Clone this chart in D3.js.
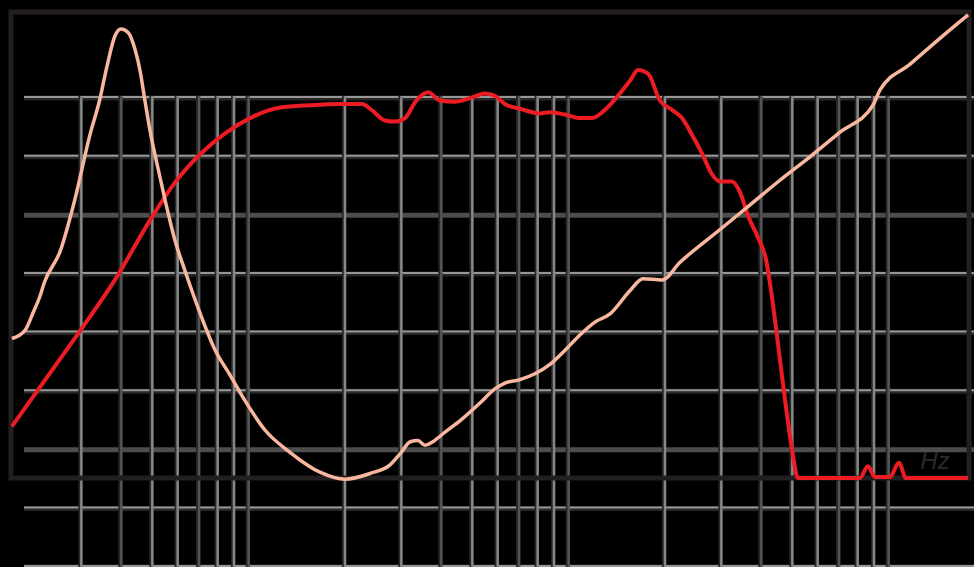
<!DOCTYPE html>
<html>
<head>
<meta charset="utf-8">
<script src="https://cdn.jsdelivr.net/npm/d3@7"></script>
<style>
  html, body { margin: 0; padding: 0; background: #000; }
  svg { display: block; }
</style>
</head>
<body>
<div id="chart"></div>
<script>
// grid positions
var gridFreqs = [15, 20, 25, 30, 35, 40, 45, 50,
                 100, 150, 200, 250, 300, 350, 400, 450, 500,
                 1000, 1500, 2000, 2500, 3000, 3500, 4000, 4500, 5000];
var gridLevels = [95, 90, 85, 80, 75, 70, 65, 60, 55];

// frequency response (Hz, dB)
var splFreq = [9.1, 12.0, 14.9, 19.1, 24.6, 29.4, 35.2, 42.2, 50.5, 62.7, 77.8, 96.4,
               113, 121, 133, 143, 154, 166, 182, 198, 221, 246, 274, 294, 316, 352,
               407, 437, 487, 542, 591, 649, 723, 778, 824, 885, 964, 1052, 1130, 1213,
               1305, 1403, 1486, 1620, 1714, 1816, 1953, 2070, 2145, 2256, 2371, 2495,
               2605, 4064, 4305, 4529, 5047, 5383, 5662, 8851];
var splDb = [66.9, 71.5, 75.1, 79.4, 84.5, 87.7, 90.1, 91.9, 93.2, 94.1, 94.3, 94.4,
             94.4, 93.9, 93.0, 92.9, 93.2, 94.6, 95.4, 94.7, 94.6, 94.9, 95.3, 95.1, 94.4, 94.0,
             93.6, 93.7, 93.5, 93.2, 93.2, 93.9, 95.3, 96.4, 97.3, 97.0, 94.7, 93.9, 93.2, 91.8,
             90.2, 88.4, 87.8, 87.8, 86.9, 84.9, 83.0, 81.1, 78.5, 73.9, 69.2, 64.9,
             62.5, 62.5, 63.5, 62.6, 62.6, 63.8, 62.5, 62.5];

// impedance (Hz, ohm)
var impFreq = [9.1, 10.0, 10.6, 11.1, 11.5, 12.9, 14.3, 16.0, 17.1, 18.0, 19.1, 19.95,
               21.0, 22.1, 22.9, 23.7, 24.6, 25.9, 27.4, 29.4, 31.6, 35.2, 39.3, 43.7,
               48.7, 56.2, 67.3, 83.5, 100, 120, 138, 149, 160, 169, 178, 188, 205, 229,
               264, 294, 316, 352, 392, 437, 487, 542, 604, 673, 778, 853, 980, 1114,
               1486, 1845, 2286, 2838, 3524, 4467, 4699, 5834, 7230, 8851];
var impOhm = [19.4, 20.1, 21.6, 22.9, 24.2, 26.9, 31.2, 36.9, 39.7, 42.5, 45.2, 45.8,
              45.5, 44.0, 42.2, 39.7, 37.1, 34.2, 31.2, 27.8, 25.2, 21.6, 18.4, 16.3,
              14.1, 11.6, 9.7, 8.0, 7.4, 7.9, 8.6, 9.6, 10.6, 10.7, 10.3, 10.6, 11.4, 12.4,
              13.9, 15.1, 15.6, 15.9, 16.4, 17.2, 18.4, 19.7, 20.8, 21.5, 23.5, 24.5, 24.4, 25.9,
              28.7, 30.8, 32.9, 34.9, 37.0, 39.3, 40.6, 42.8, 45.0, 47.0];

var unitLabel = "Hz";

var width = 974, height = 567;

var svg = d3.select('#chart').append('svg')
  .attr('width', width)
  .attr('height', height)
  .style('background', '#000');

var x = d3.scaleLog().domain([10, 10000]).range([25, 985]);
var yDb = d3.scaleLinear().domain([55, 95]).range([566, 97]);
var yOhm = d3.scaleLinear().domain([0, 40]).range([566, 97]);

// horizontal grid
var darkRows = [85, 65];
var hg = svg.append('g');
hg.selectAll('line.band').data(gridLevels).enter().append('line')
  .attr('x1', 24).attr('x2', width)
  .attr('y1', function (d) { return yDb(d) + 1; })
  .attr('y2', function (d) { return yDb(d) + 1; })
  .attr('stroke', function (d) { return darkRows.indexOf(d) >= 0 ? '#4d4d4d' : '#262626'; })
  .attr('stroke-width', 5);
hg.selectAll('line.hi').data(gridLevels.filter(function (d) { return darkRows.indexOf(d) < 0; }))
  .enter().append('line')
  .attr('x1', 24).attr('x2', width)
  .attr('y1', function (d) { return yDb(d); })
  .attr('y2', function (d) { return yDb(d); })
  .attr('stroke', '#979797')
  .attr('stroke-width', 2);

// vertical grid
var vg = svg.append('g');
vg.selectAll('line.band').data(gridFreqs).enter().append('line')
  .attr('x1', function (d) { return x(d) - 1; })
  .attr('x2', function (d) { return x(d) - 1; })
  .attr('y1', 96).attr('y2', height)
  .attr('stroke', '#262626')
  .attr('stroke-width', 4);
vg.selectAll('line.hi').data(gridFreqs).enter().append('line')
  .attr('x1', function (d) { return x(d); })
  .attr('x2', function (d) { return x(d); })
  .attr('y1', 96).attr('y2', height)
  .attr('stroke', function (d, i) { return i % 3 == 1 ? '#555555' : '#888888'; })
  .attr('stroke-width', 2.5);

// frame
svg.append('rect')
  .attr('x', 11).attr('y', 12)
  .attr('width', 958).attr('height', 466)
  .attr('fill', 'none')
  .attr('stroke', '#231f20')
  .attr('stroke-width', 5);

svg.append('text')
  .text(unitLabel)
  .attr('x', 935).attr('y', 469)
  .attr('text-anchor', 'middle')
  .attr('font-family', 'Liberation Sans, sans-serif')
  .attr('font-style', 'italic')
  .attr('font-size', '24px')
  .attr('fill', '#2a2a2a');

// curves
var splLine = d3.line()
  .x(function (d) { return x(d[0]); })
  .y(function (d) { return yDb(d[1]); })
  .curve(d3.curveMonotoneX);
var impLine = d3.line()
  .x(function (d) { return x(d[0]); })
  .y(function (d) { return yOhm(d[1]); })
  .curve(d3.curveMonotoneX);

svg.append('path')
  .datum(d3.zip(splFreq, splDb))
  .attr('d', splLine)
  .attr('fill', 'none')
  .attr('stroke', '#ed1c24')
  .attr('stroke-width', 4)
  .attr('stroke-linejoin', 'round');

svg.append('path')
  .datum(d3.zip(impFreq, impOhm))
  .attr('d', impLine)
  .attr('fill', 'none')
  .attr('stroke', '#f9b89d')
  .attr('stroke-width', 3.5)
  .attr('stroke-linejoin', 'round');
</script>
</body>
</html>
